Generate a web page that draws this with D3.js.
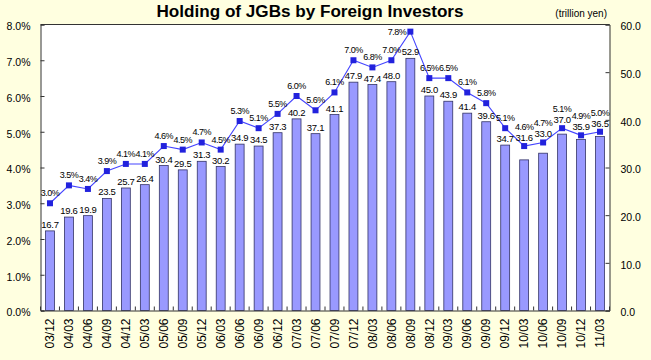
<!DOCTYPE html>
<html>
<head>
<meta charset="utf-8">
<script src="https://cdn.jsdelivr.net/npm/d3@7/dist/d3.min.js"></script>
<style>
  html, body { margin: 0; padding: 0; background: #FFFFE0; }
  svg { display: block; }
  text { font-family: "Liberation Sans", Arial, sans-serif; }
</style>
</head>
<body>
<svg id="chart" width="651" height="360"></svg>
<script>
const categories = ["03/12","04/03","04/06","04/09","04/12","05/03","05/06","05/09","05/12","06/03","06/06","06/09","06/12","07/03","07/06","07/09","07/12","08/03","08/06","08/09","08/12","09/03","09/06","09/09","09/12","10/03","10/06","10/09","10/12","11/03"];
const holdings = [16.7,19.6,19.9,23.5,25.7,26.4,30.4,29.5,31.3,30.2,34.9,34.5,37.3,40.2,37.1,41.1,47.9,47.4,48.0,52.9,45.0,43.9,41.4,39.6,34.7,31.6,33.0,37.0,35.9,36.5];
const shares = [3.0,3.5,3.4,3.9,4.1,4.1,4.6,4.5,4.7,4.5,5.3,5.1,5.5,6.0,5.6,6.1,7.0,6.8,7.0,7.8,6.5,6.5,6.1,5.8,5.1,4.6,4.7,5.1,4.9,5.0];
const leftTicks = [0,1,2,3,4,5,6,7,8];
const rightTicks = [0,10,20,30,40,50,60];
const titleText = "Holding of JGBs by Foreign Investors";
const unitText = "(trillion yen)";

const svg = d3.select("#chart");
const W = 651, H = 360;
const m = {left: 40.5, right: 609.5, top: 24.5, bottom: 310.5};

svg.append("rect").attr("width", W).attr("height", H).attr("fill", "#FFFFE0");
svg.append("rect")
  .attr("x", m.left).attr("y", m.top)
  .attr("width", m.right - m.left).attr("height", m.bottom - m.top)
  .attr("fill", "#FFFFFF");

const x = d3.scaleBand().domain(categories).range([m.left, m.right]).paddingInner(0).paddingOuter(0);
const yL = d3.scaleLinear().domain([0, 8]).range([m.bottom, m.top]);
const yR = d3.scaleLinear().domain([0, 60]).range([m.bottom, m.top]);

const barW = x.bandwidth() * 0.47;
const cx = i => x(categories[i]) + x.bandwidth() / 2;

// bars
svg.append("g").selectAll("rect").data(holdings).join("rect")
  .attr("x", (d, i) => cx(i) - barW / 2)
  .attr("y", d => yR(d))
  .attr("width", barW)
  .attr("height", d => yR(0) - yR(d))
  .attr("fill", "#9999FF")
  .attr("stroke", "#333366")
  .attr("stroke-width", 0.8);

// axes
const axL = d3.axisLeft(yL).tickValues(leftTicks).tickSize(-4).tickPadding(10).tickFormat(d => d.toFixed(1) + "%");
const axR = d3.axisRight(yR).tickValues(rightTicks).tickSize(-4).tickPadding(11).tickFormat(d => d.toFixed(1));
const axB = d3.axisBottom(x).tickSize(0).tickPadding(6);

const gL = svg.append("g").attr("transform", `translate(${m.left},0)`).call(axL);
const gR = svg.append("g").attr("transform", `translate(${m.right},0)`).call(axR);
const gB = svg.append("g").attr("transform", `translate(0,${m.bottom})`).call(axB);

[gL, gR, gB].forEach(g => {
  g.select(".domain").attr("stroke", "#333");
  g.selectAll(".tick line").attr("stroke", "#333");
  g.selectAll("text").attr("font-size", "10.5px").attr("fill", "#000")
    .attr("font-family", "'Liberation Sans', Arial, sans-serif");
});
gL.selectAll(".tick text").attr("dy", "0.5em");
gR.selectAll(".tick text").attr("dy", "0.5em");

gB.selectAll(".tick text")
  .attr("font-size", "12px")
  .attr("text-anchor", "end")
  .attr("transform", "rotate(-90)")
  .attr("x", -8)
  .attr("y", 0)
  .attr("dy", "0.35em");

// category boundary ticks (inside)
const boundaries = categories.map(c => x(c)).concat([m.right]);
svg.append("g").selectAll("line").data(boundaries).join("line")
  .attr("x1", d => d).attr("x2", d => d)
  .attr("y1", m.bottom).attr("y2", m.bottom - 4)
  .attr("stroke", "#333");

// top border
svg.append("line").attr("x1", m.left).attr("x2", m.right).attr("y1", m.top).attr("y2", m.top).attr("stroke", "#333");

// line series
const line = d3.line().x((d, i) => cx(i)).y(d => yL(d));
svg.append("path").datum(shares)
  .attr("d", line)
  .attr("fill", "none")
  .attr("stroke", "#4444FF")
  .attr("stroke-width", 1.1);

svg.append("g").selectAll("rect").data(shares).join("rect")
  .attr("x", (d, i) => cx(i) - 3)
  .attr("y", d => yL(d) - 3)
  .attr("width", 6).attr("height", 6)
  .attr("fill", "#2222DD");

function boxOf(node) { const b = node.getBBox(); return {x: b.x, y: b.y, w: b.width, h: b.height}; }
function hit(a, b) {
  return a.x < b.x + b.w - 0.5 && b.x < a.x + a.w - 0.5 && a.y < b.y + b.h - 0.5 && b.y < a.y + a.h - 0.5;
}

// bar labels (lifted above the marker when they would collide with it)
const placed = [];
svg.append("g").selectAll("text").data(holdings).join("text")
  .attr("x", (d, i) => cx(i))
  .attr("y", d => yR(d) - 3)
  .attr("text-anchor", "middle")
  .attr("font-size", "9.5px")
  .attr("letter-spacing", "-0.3px")
  .attr("fill", "#000")
  .text(d => d.toFixed(1))
  .each(function(d, i) {
    const py = yL(shares[i]);
    const marker = {x: cx(i) - 3, y: py - 3, w: 6, h: 6};
    if (hit(boxOf(this), marker)) d3.select(this).attr("y", py - 5);
    placed.push(boxOf(this));
  });

// percent labels with simple collision avoidance
svg.append("g").selectAll("text").data(shares).join("text")
  .attr("font-size", "9px")
  .attr("letter-spacing", "-0.5px")
  .attr("fill", "#000")
  .text(d => d.toFixed(1) + "%")
  .each(function(d, i) {
    const t = d3.select(this);
    const py = yL(d);
    if (py - 7 - 8 < m.top) {
      t.attr("x", cx(i) - 4).attr("y", py + 3).attr("text-anchor", "end");
    } else {
      t.attr("x", cx(i)).attr("y", py - 7).attr("text-anchor", "middle");
      let yy = py - 7;
      for (let k = 0; k < 40; k++) {
        const box = boxOf(this);
        if (!placed.some(b => hit(box, b))) break;
        yy -= 1;
        t.attr("y", yy);
      }
    }
    placed.push(boxOf(this));
  });

// title
svg.append("text")
  .attr("x", 310).attr("y", 17)
  .attr("text-anchor", "middle")
  .attr("font-size", "16px")
  .attr("font-weight", "bold")
  .attr("textLength", 307)
  .attr("lengthAdjust", "spacingAndGlyphs")
  .text(titleText);

svg.append("text")
  .attr("x", 607).attr("y", 17)
  .attr("text-anchor", "end")
  .attr("font-size", "10px")
  .text(unitText);
</script>
</body>
</html>
